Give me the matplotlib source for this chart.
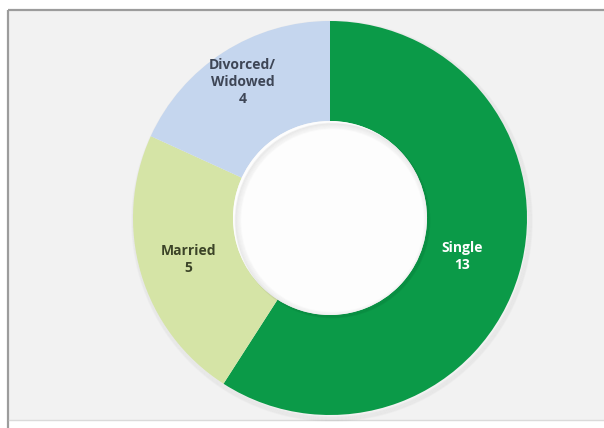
import matplotlib.pyplot as plt
import numpy as np
from matplotlib.patches import Circle, Rectangle

# marital status counts
labels = ['Single', 'Married', 'Divorced/\nWidowed']
counts = [13, 5, 4]
colors = ['#0b9a48', '#d5e4a6', '#c5d6ee']
text_colors = ['white', '#3c4428', '#3e4656']
label_r = [0.70, 0.75, 0.82]

W, H = 604, 428
fig = plt.figure(figsize=(W / 100, H / 100), dpi=100)
fig.patch.set_facecolor('white')
ax = fig.add_axes([0, 0, 1, 1])

# frame of the chart area
ax.add_patch(Rectangle((9, 11), W - 9, 410, facecolor='#f2f2f2', edgecolor='none', zorder=0))
ax.plot([8, W], [10, 10], color='#9c9c9c', lw=1.6, zorder=1, solid_capstyle='butt')
ax.plot([8, 8], [10, H], color='#9c9c9c', lw=1.6, zorder=1, solid_capstyle='butt')
ax.plot([9, W], [420, 420], color='#dadada', lw=1.0, zorder=1)

cx, cy, R = 330, 218, 197
hole = 97

# soft shadow under the ring, toward the lower right
for i in range(6):
    ax.add_patch(Circle((cx + 2, cy + 3), R - 1 + i * 0.8, facecolor='none',
                        edgecolor='#000000', lw=1.2, alpha=0.02, zorder=1))

# y axis is flipped, so counterclock=True runs clockwise on screen
wedges, _ = ax.pie(counts, colors=colors, startangle=-90, counterclock=True,
                   center=(cx, cy), radius=R, frame=True,
                   wedgeprops=dict(width=R - hole, edgecolor='none'))
for w in wedges:
    w.set_zorder(2)

ax.set_xlim(0, W)
ax.set_ylim(H, 0)
ax.set_aspect('equal')
ax.axis('off')

# white hole with an inner shadow along its upper left edge
ax.add_patch(Circle((cx, cy), hole, facecolor='#fdfdfd', edgecolor='none', zorder=3))
for i in range(6):
    ax.add_patch(Circle((cx + 2.5, cy + 2.5), hole - i * 1.0, facecolor='none',
                        edgecolor='#000000', lw=1.2, alpha=0.05 - i * 0.007, zorder=3))
ax.add_patch(Circle((cx, cy), hole + 6, facecolor='none', edgecolor='none', zorder=3))

for w, lab, n, tc, fr in zip(wedges, labels, counts, text_colors, label_r):
    mid = np.deg2rad((w.theta1 + w.theta2) / 2)
    r = R * fr
    x = cx + r * np.cos(mid)
    y = cy + r * np.sin(mid)
    ax.text(x, y, f'{lab}\n{n}', ha='center', va='center', color=tc,
            fontsize=10, fontweight='bold', family='Open Sans', linespacing=1.25,
            zorder=4)

fig.savefig('out.png', dpi=100, facecolor='white')
